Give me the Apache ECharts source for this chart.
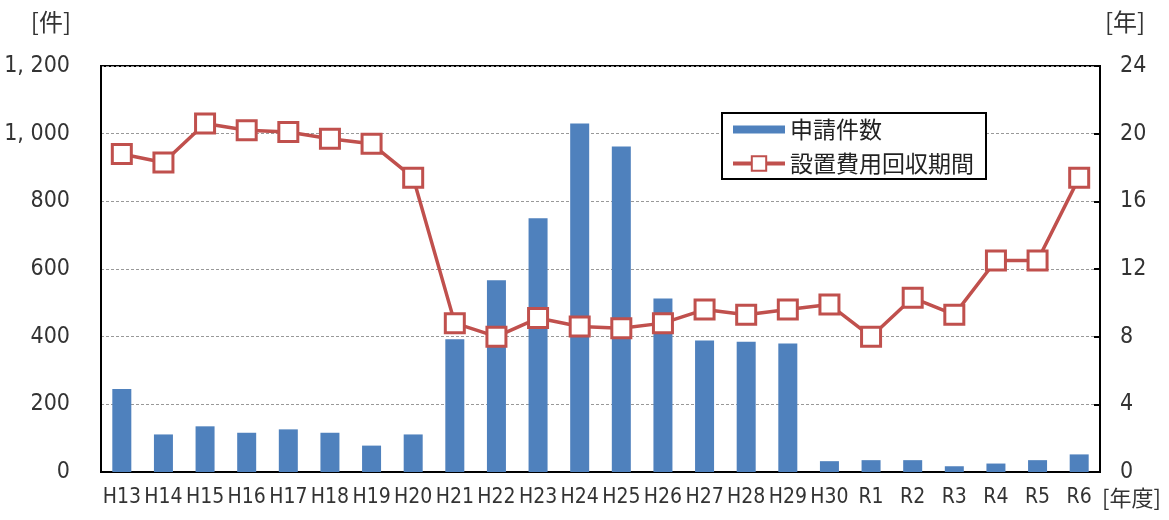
<!DOCTYPE html>
<html>
<head>
<meta charset="utf-8">
<script src="https://cdn.jsdelivr.net/npm/echarts@6/dist/echarts.min.js"></script>
<style>
  html, body { margin: 0; padding: 0; background: #fff; }
  #chart { width: 1169px; height: 520px; }
</style>
</head>
<body>
<div id="chart"></div>
<script>
// 年度
const years = ['H13', 'H14', 'H15', 'H16', 'H17', 'H18', 'H19', 'H20', 'H21', 'H22', 'H23', 'H24',
  'H25', 'H26', 'H27', 'H28', 'H29', 'H30', 'R1', 'R2', 'R3', 'R4', 'R5', 'R6']
// 申請件数 [件]
const applications = [245, 111, 135, 116, 126, 116, 78, 111, 392, 567, 750, 1030,
  962, 513, 389, 385, 380, 32, 35, 35, 17, 25, 35, 52]
// 設置費用回収期間 [年]
const payback = [18.8, 18.3, 20.6, 20.2, 20.1, 19.7, 19.4, 17.4, 8.8, 8.0, 9.1, 8.6,
  8.5, 8.8, 9.6, 9.3, 9.6, 9.9, 8.0, 10.3, 9.3, 12.5, 12.5, 17.4]

const latin = '"DejaVu Sans", sans-serif'
const cjk = '"Noto Sans CJK JP", sans-serif'
const textColor = '#333'

const chart = echarts.init(document.getElementById('chart'))

const option = {
  animation: false,
  grid: {
    left: 101,
    right: 69,
    top: 66,
    bottom: 48,
    outerBoundsMode: 'none',
    show: true,
    borderColor: '#000',
    borderWidth: 2
  },
  legend: {
    orient: 'vertical',
    left: 722,
    top: 113,
    padding: [5, 12, 4, 9],
    borderColor: '#000',
    borderWidth: 2,
    backgroundColor: '#fff',
    itemWidth: 52,
    itemHeight: 18,
    itemGap: 11,
    lineStyle: { width: 4 },
    textStyle: { fontFamily: cjk, fontSize: 23, color: '#222' },
    data: [
      { name: '申請件数', icon: 'path://M0,0M0,5L52,5L52,13L0,13Z M52,18' },
      { name: '設置費用回収期間' }
    ]
  },
  xAxis: {
    type: 'category',
    data: years,
    name: '[年度]',
    nameLocation: 'end',
    nameGap: 2,
    nameTextStyle: {
      fontFamily: cjk, fontSize: 22, color: textColor,
      align: 'left', verticalAlign: 'top', padding: [15, 0, 0, 0]
    },
    axisLine: { lineStyle: { color: '#000', width: 2 } },
    axisTick: { show: false },
    axisLabel: {
      interval: 0, fontFamily: latin, fontWeight: 'condensed', fontSize: 21,
      color: textColor, margin: 15
    }
  },
  yAxis: [
    {
      type: 'value',
      min: 0,
      max: 1200,
      interval: 200,
      name: '[件]',
      nameLocation: 'end',
      nameGap: 44,
      nameTextStyle: {
        fontFamily: cjk, fontSize: 24, color: textColor,
        align: 'right', verticalAlign: 'middle', padding: [0, 30, 0, 0]
      },
      axisLine: { show: true, lineStyle: { color: '#000', width: 2 } },
      axisTick: { show: false },
      axisLabel: {
        fontFamily: latin, fontWeight: 'condensed', fontSize: 23, color: textColor, margin: 31,
        formatter: v => v >= 1000 ? Math.floor(v / 1000) + ', ' + String(v % 1000).padStart(3, '0') : String(v)
      },
      splitLine: { lineStyle: { color: '#999', type: [3, 2], width: 1 } }
    },
    {
      type: 'value',
      min: 0,
      max: 24,
      interval: 4,
      name: '[年]',
      nameLocation: 'end',
      nameGap: 44,
      nameTextStyle: {
        fontFamily: cjk, fontSize: 24, color: textColor,
        align: 'left', verticalAlign: 'middle', padding: [0, 0, 0, 5]
      },
      axisLine: { show: true, lineStyle: { color: '#000', width: 2 } },
      axisTick: { show: true, inside: true, length: 6, lineStyle: { color: '#000', width: 2 } },
      axisLabel: { fontFamily: latin, fontWeight: 'condensed', fontSize: 23, color: textColor, margin: 20 },
      splitLine: { show: false }
    }
  ],
  series: [
    {
      name: '申請件数',
      type: 'bar',
      yAxisIndex: 0,
      barWidth: 19,
      itemStyle: { color: '#4F81BD' },
      data: applications
    },
    {
      name: '設置費用回収期間',
      type: 'line',
      yAxisIndex: 1,
      symbol: 'rect',
      symbolSize: 19,
      showAllSymbol: true,
      lineStyle: { color: '#C0504D', width: 3.5 },
      itemStyle: { color: '#fff', borderColor: '#C0504D', borderWidth: 3 },
      data: payback
    }
  ]
}

chart.setOption(option)
</script>
</body>
</html>
